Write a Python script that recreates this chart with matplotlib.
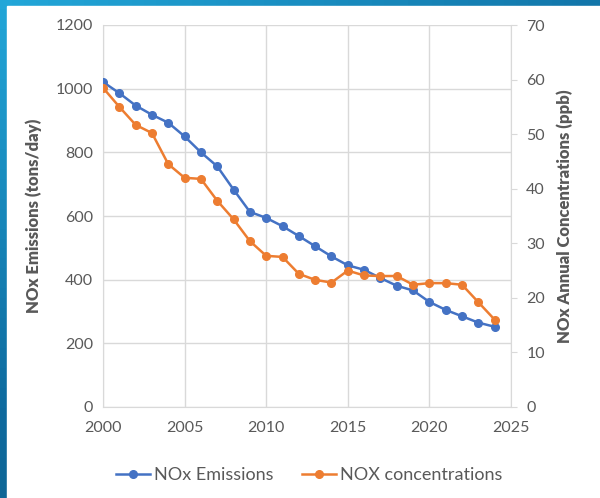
import numpy as np
import matplotlib
matplotlib.use("Agg")
from matplotlib import pyplot as plt
from matplotlib.patches import Rectangle

# datos
years = list(range(2000, 2025))
emissions = [1021, 986, 947, 918, 893, 850, 800, 756, 683, 613,
             594, 568, 537, 505, 473, 445, 431, 405, 381, 366,
             330, 305, 285, 265, 252]
concentrations = [58.5, 55.0, 51.7, 50.2, 44.5, 42.0, 41.8, 37.8, 34.4, 30.4,
                  27.7, 27.5, 24.4, 23.3, 22.8, 25.0, 24.1, 24.0, 24.0, 22.4,
                  22.7, 22.7, 22.4, 19.2, 16.0]

blue = "#4472C4"
orange = "#ED7D31"
gray = "#595959"
grid = "#D9D9D9"

plt.rcParams['font.family'] = ['Lato', 'DejaVu Sans']

fig = plt.figure(figsize=(6, 4.98), dpi=100)

# fondo azul degradado (borde de la diapositiva)
bg = fig.add_axes([0, 0, 1, 1], zorder=-10)
gx, gy = np.meshgrid(np.linspace(0, 1, 50), np.linspace(0, 1, 50))
grad = 0.6 * gy + 0.4 * gx
bg.imshow(grad, cmap=matplotlib.colors.LinearSegmentedColormap.from_list(
    "b", ["#22A6D8", "#0E6A9E", "#135A7A"]), aspect="auto",
    extent=[0, 1, 1, 0])
bg.add_patch(Rectangle((7 / 600, 0), 1, 1 - 6 / 498, color="white",
                       transform=bg.transAxes))
bg.set_xlim(0, 1)
bg.set_ylim(1, 0)
bg.axis("off")

ax = fig.add_axes([103 / 600, 1 - 407 / 498, (511 - 103) / 600, (407 - 25) / 498])
ax2 = ax.twinx()

l1, = ax.plot(years, emissions, color=blue, lw=1.8, marker="o", ms=5.5,
              label="NOx Emissions", zorder=3)
l2, = ax2.plot(years, concentrations, color=orange, lw=1.8, marker="o", ms=5.5,
               label="NOX concentrations", zorder=3)

ax.set_xlim(2000, 2025)
ax.set_ylim(0, 1200)
ax2.set_ylim(0, 70)
ax.set_xticks(range(2000, 2026, 5))
ax.set_yticks(range(0, 1201, 200))
ax2.set_yticks(range(0, 71, 10))

ax.grid(True, color=grid, lw=1)
ax.set_axisbelow(True)

for a in (ax, ax2):
    for s in a.spines.values():
        s.set_visible(False)
ax.spines["left"].set_visible(True)
ax.spines["left"].set_color(grid)
ax.spines["bottom"].set_visible(True)
ax.spines["bottom"].set_color(grid)
ax2.spines["right"].set_visible(True)
ax2.spines["right"].set_color(grid)

ax.tick_params(axis="both", length=0, labelsize=11.5, labelcolor=gray, pad=7)
ax.tick_params(axis="x", pad=10)
ax2.tick_params(axis="y", length=4, color=grid, labelsize=11.5, labelcolor=gray, pad=7)

ax.set_ylabel("NOx Emissions (tons/day)", fontsize=12, fontweight="heavy",
              color=gray, labelpad=10)
ax2.set_ylabel("NOx Annual Concentrations (ppb)", fontsize=12, fontweight="heavy",
               color=gray, labelpad=8)

fig.legend(handles=[l1, l2], loc="center", bbox_to_anchor=(0.515, 1 - 475 / 498),
           ncol=2, frameon=False, fontsize=13, labelcolor=gray,
           handlelength=1.9, handletextpad=0.2, columnspacing=1.6)

fig.savefig("out.png", dpi=100)
